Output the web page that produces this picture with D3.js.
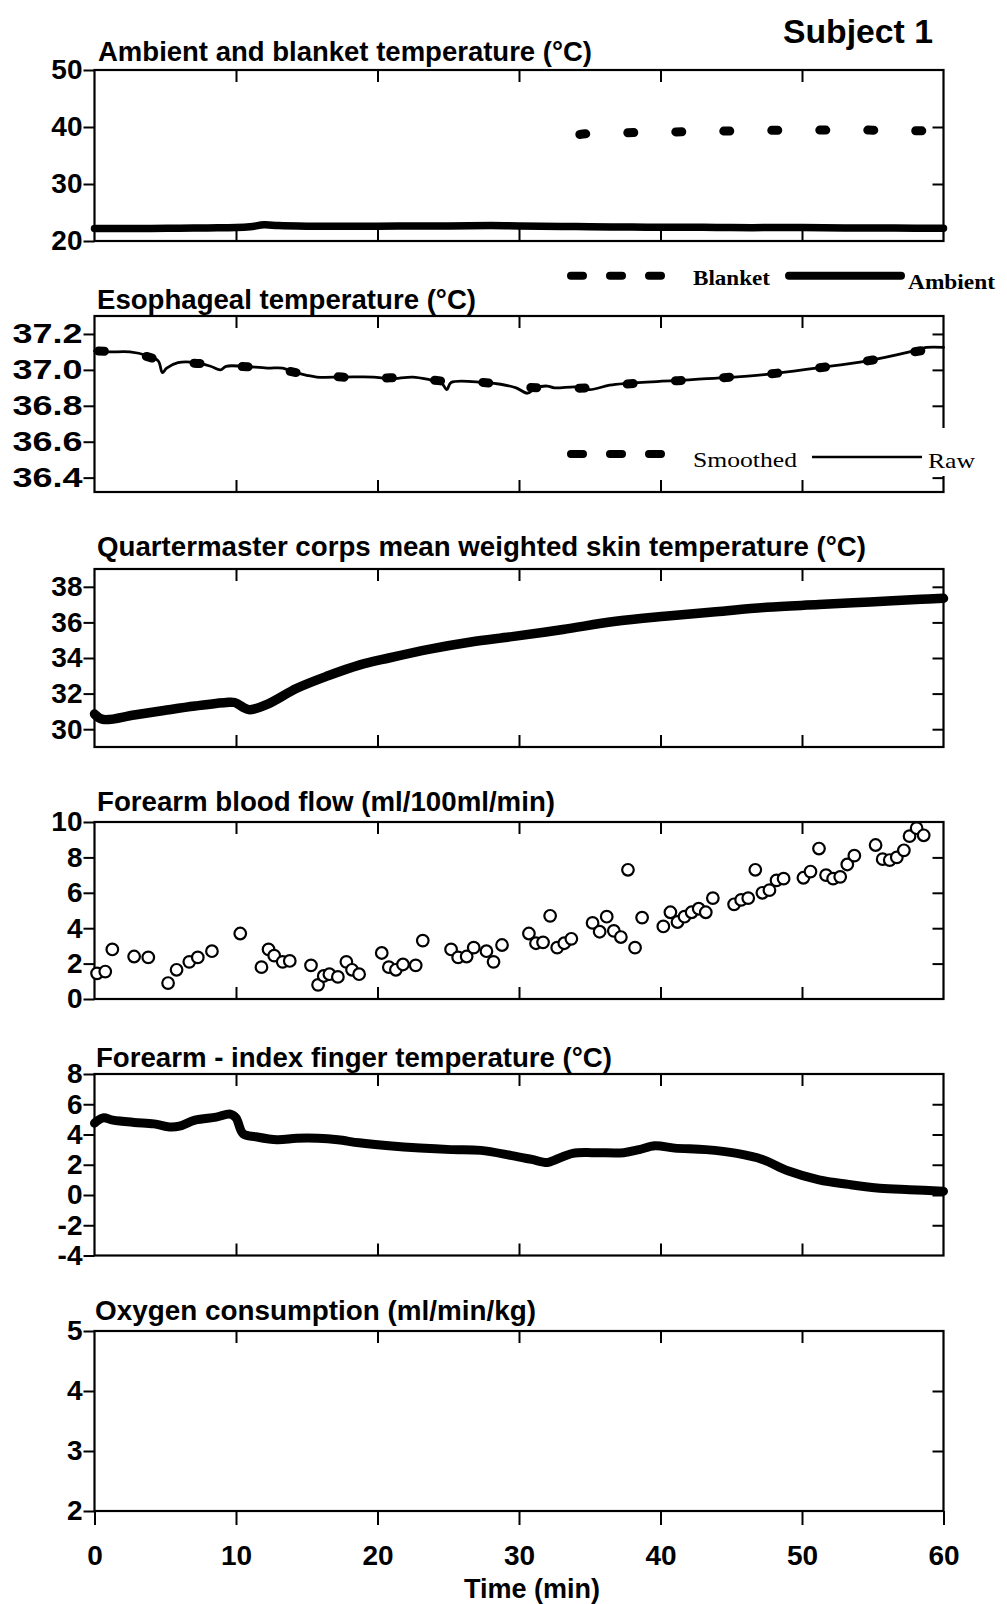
<!DOCTYPE html>
<html>
<head>
<meta charset="utf-8">
<script src="https://cdn.jsdelivr.net/npm/d3@7"></script>
<style>
  body { margin: 0; background: #fff; }
  svg { display: block; }
</style>
</head>
<body>
<svg id="chart" width="1007" height="1604"></svg>
<script>
// ---- Data -------------------------------------------------------------
const timeTicks = [0, 10, 20, 30, 40, 50, 60];

// Ambient and blanket temperature (°C)
const ambientTime = [0, 2, 4, 6, 8, 10, 11, 12, 13, 15, 18, 20, 23, 25, 28, 30, 33, 35, 38, 40, 43, 45, 48, 50, 53, 55, 58, 60];
const ambientTemp = [22.2, 22.2, 22.2, 22.25, 22.3, 22.35, 22.5, 22.85, 22.7, 22.6, 22.6, 22.6, 22.65, 22.65, 22.7, 22.65, 22.55, 22.5, 22.45, 22.4, 22.4, 22.35, 22.35, 22.35, 22.3, 22.3, 22.25, 22.25];
const blanketTime = [34.3, 35, 37.5, 40, 42.5, 45, 47.5, 50, 52.5, 55, 57.5, 60];
const blanketTemp = [38.7, 38.85, 39.0, 39.1, 39.2, 39.3, 39.4, 39.45, 39.45, 39.45, 39.35, 39.3];
const ambientTicks = [20, 30, 40, 50];

// Esophageal temperature (°C)
const esoRawTime = [0, 1, 2.5, 3.7, 4.5, 4.8, 5.1, 5.9, 7.2, 8.2, 8.9, 9.3, 10.5, 12.2, 13.3, 14, 15, 15.7, 17.6, 19.7, 20.9, 22.5, 23.7, 24.5, 24.9, 25.2, 27.5, 28.7, 29.8, 30.6, 31.2, 32, 32.5, 34.1, 35, 36.4, 37.6, 40.9, 44.2, 47.5, 51, 54.6, 57.6, 58.8, 60];
const esoRawTemp = [37.105, 37.1, 37.1, 37.08, 37.05, 36.985, 37.01, 37.04, 37.04, 37.02, 37.0, 37.02, 37.02, 37.01, 37.01, 36.99, 36.97, 36.96, 36.96, 36.96, 36.95, 36.96, 36.945, 36.93, 36.89, 36.93, 36.93, 36.92, 36.9, 36.87, 36.9, 36.91, 36.9, 36.905, 36.89, 36.915, 36.925, 36.94, 36.955, 36.975, 37.01, 37.05, 37.1, 37.125, 37.125];
const esoSmoothTime = [0, 2.5, 5, 7.5, 10, 12.5, 15, 17.5, 20, 22.5, 25, 27.5, 30, 32.5, 35, 37.5, 40, 42.5, 45, 47.5, 50, 52.5, 55, 57.5, 60];
const esoSmoothTemp = [37.105, 37.095, 37.05, 37.035, 37.02, 37.01, 36.975, 36.96, 36.955, 36.955, 36.935, 36.93, 36.905, 36.9, 36.9, 36.92, 36.935, 36.945, 36.96, 36.975, 37.0, 37.025, 37.055, 37.095, 37.125];
const esoTicks = [36.4, 36.6, 36.8, 37.0, 37.2];

// Quartermaster corps mean weighted skin temperature (°C)
const skinTime = [0, 0.6, 2.8, 4.9, 7.1, 9.3, 9.9, 10.9, 12.2, 14.3, 16.5, 18.7, 20.8, 23.7, 26.6, 29.5, 33.1, 36.7, 40.3, 43.9, 47.5, 51.2, 54.8, 58.4, 60];
const skinTemp = [30.85, 30.55, 30.8, 31.05, 31.3, 31.5, 31.5, 31.1, 31.4, 32.3, 33.0, 33.6, 34.0, 34.5, 34.9, 35.2, 35.6, 36.05, 36.35, 36.6, 36.85, 37.0, 37.15, 37.3, 37.35];
const skinTicks = [30, 32, 34, 36, 38];

// Forearm blood flow (ml/100ml/min)
const flowTime = [0.18, 0.76, 1.26, 2.8, 3.8, 5.2, 5.8, 6.7, 7.3, 8.3, 10.3, 11.8, 12.3, 12.7, 13.3, 13.8, 15.3, 15.8, 16.2, 16.6, 17.2, 17.8, 18.2, 18.7, 20.3, 20.8, 21.3, 21.8, 22.7, 23.2, 25.2, 25.7, 26.3, 26.8, 27.7, 28.2, 28.8, 30.7, 31.2, 31.7, 32.2, 32.7, 33.2, 33.7, 35.2, 35.7, 36.2, 36.7, 37.2, 37.7, 38.2, 38.7, 40.2, 40.7, 41.2, 41.7, 42.2, 42.7, 43.2, 43.7, 45.2, 45.7, 46.2, 46.7, 47.2, 47.7, 48.2, 48.7, 50.1, 50.6, 51.2, 51.7, 52.2, 52.7, 53.2, 53.7, 55.2, 55.7, 56.2, 56.7, 57.2, 57.6, 58.1, 58.6];
const flowValue = [1.45, 1.55, 2.8, 2.4, 2.35, 0.9, 1.65, 2.1, 2.35, 2.7, 3.7, 1.8, 2.8, 2.45, 2.1, 2.15, 1.9, 0.8, 1.3, 1.4, 1.25, 2.1, 1.65, 1.4, 2.6, 1.8, 1.65, 1.95, 1.9, 3.3, 2.8, 2.35, 2.4, 2.9, 2.7, 2.1, 3.05, 3.7, 3.15, 3.2, 4.7, 2.9, 3.15, 3.4, 4.3, 3.8, 4.65, 3.85, 3.5, 7.3, 2.9, 4.6, 4.1, 4.9, 4.35, 4.65, 4.9, 5.1, 4.9, 5.7, 5.35, 5.6, 5.7, 7.3, 6.0, 6.15, 6.7, 6.8, 6.85, 7.2, 8.5, 7.0, 6.8, 6.9, 7.6, 8.1, 8.7, 7.9, 7.85, 8.0, 8.4, 9.2, 9.65, 9.25];
const flowTicks = [0, 2, 4, 6, 8, 10];

// Forearm - index finger temperature (°C)
const fingerTime = [0, 0.6, 1.3, 2.8, 4.2, 5.3, 6, 7.1, 8.6, 9.6, 10, 10.5, 11.4, 12.9, 14.3, 15.8, 17.2, 18.7, 20.8, 23, 25.2, 27.3, 29.5, 30.9, 32, 32.5, 33.8, 35.3, 37.4, 38.5, 39.6, 41, 43.2, 45.4, 47.2, 49, 51.2, 53.3, 55.5, 57.6, 60];
const fingerDiff = [4.75, 5.1, 4.95, 4.8, 4.7, 4.5, 4.55, 4.95, 5.15, 5.35, 5.1, 4.05, 3.85, 3.65, 3.75, 3.75, 3.65, 3.45, 3.25, 3.1, 3.0, 2.95, 2.6, 2.35, 2.15, 2.3, 2.75, 2.8, 2.8, 3.0, 3.25, 3.1, 3.0, 2.75, 2.35, 1.6, 1.0, 0.7, 0.45, 0.35, 0.25];
const fingerTicks = [-4, -2, 0, 2, 4, 6, 8];

// Oxygen consumption (ml/min/kg) – axis only
const oxygenTicks = [2, 3, 4, 5];

// ---- Layout -----------------------------------------------------------
const SANS = '"Liberation Sans", Arial, Helvetica, sans-serif';
const SERIF = '"Liberation Serif", "Times New Roman", serif';
const svg = d3.select("#chart");
const x = d3.scaleLinear().domain([0, 60]).range([94.5, 943.5]);
const innerTimes = timeTicks.slice(1, -1);
const intLabel = d => String(d);              // plain hyphen for negatives
const oneDecimal = d => d.toFixed(1);

function zip(ts, vs) { return ts.map((t, i) => [t, vs[i]]); }

function panel(cfg) {
  const y = d3.scaleLinear().domain(cfg.domain).range([cfg.bottom, cfg.top]);
  const g = svg.append("g");

  // title
  g.append("text")
    .attr("x", cfg.titleX).attr("y", cfg.titleY)
    .attr("font-family", SANS).attr("font-weight", "bold").attr("font-size", 27)
    .attr("textLength", cfg.titleW).attr("lengthAdjust", "spacingAndGlyphs")
    .text(cfg.title);

  // frame
  g.append("rect")
    .attr("x", x(0)).attr("y", cfg.top)
    .attr("width", x(60) - x(0)).attr("height", cfg.bottom - cfg.top)
    .attr("fill", "none").attr("stroke", "#000").attr("stroke-width", 2.2);

  const styleTicks = s => {
    s.select(".domain").remove();
    s.selectAll("line").attr("stroke-width", 2);
  };

  // left axis: outward ticks with labels
  g.append("g").attr("transform", `translate(${x(0)},0)`)
    .call(d3.axisLeft(y).tickValues(cfg.ticks).tickFormat(cfg.fmt).tickSize(11).tickPadding(1))
    .call(styleTicks)
    .call(s => {
      const t = s.selectAll("text")
        .attr("font-family", SANS).attr("font-weight", "bold").attr("font-size", 28).attr("fill", "#000");
      if (cfg.labelW) t.attr("textLength", cfg.labelW).attr("lengthAdjust", "spacingAndGlyphs");
    });

  // right axis: inward ticks for interior values
  const d0 = Math.min(...cfg.domain), d1 = Math.max(...cfg.domain);
  const rightVals = cfg.ticks.filter(v => v > d0 + 1e-6 && v < d1 - 1e-6);
  g.append("g").attr("transform", `translate(${x(60)},0)`)
    .call(d3.axisRight(y).tickValues(rightVals).tickSize(-11).tickFormat(""))
    .call(styleTicks);

  // top axis: inward ticks
  g.append("g").attr("transform", `translate(0,${cfg.top})`)
    .call(d3.axisTop(x).tickValues(innerTimes).tickSize(-12).tickFormat(""))
    .call(styleTicks);

  // bottom axis
  if (cfg.lastPanel) {
    g.append("g").attr("transform", `translate(0,${cfg.bottom})`)
      .call(d3.axisBottom(x).tickValues(timeTicks).tickSize(14).tickPadding(20).tickFormat(intLabel))
      .call(styleTicks)
      .call(s => s.selectAll("text")
        .attr("font-family", SANS).attr("font-weight", "bold").attr("font-size", 28).attr("fill", "#000"));
  } else {
    g.append("g").attr("transform", `translate(0,${cfg.bottom})`)
      .call(d3.axisBottom(x).tickValues(innerTimes).tickSize(-12).tickFormat(""))
      .call(styleTicks);
  }
  return { g, y };
}

function drawLine(g, y, data, width, dash, offset) {
  const line = d3.line().x(d => x(d[0])).y(d => y(d[1])).curve(d3.curveCatmullRom.alpha(0.5));
  const p = g.append("path").datum(data)
    .attr("d", line)
    .attr("fill", "none").attr("stroke", "#000")
    .attr("stroke-width", width)
    .attr("stroke-linejoin", "round").attr("stroke-linecap", "round");
  if (dash) p.attr("stroke-dasharray", dash).attr("stroke-dashoffset", offset || 0);
  return p;
}

// ---- Header -----------------------------------------------------------
svg.append("text")
  .attr("x", 783).attr("y", 43)
  .attr("font-family", SANS).attr("font-weight", "bold").attr("font-size", 34)
  .attr("textLength", 150).attr("lengthAdjust", "spacingAndGlyphs")
  .text("Subject 1");

// ---- Panel 1: ambient and blanket ------------------------------------
{
  const { g, y } = panel({
    title: "Ambient and blanket temperature (°C)", titleX: 98, titleY: 61, titleW: 494,
    domain: [20, 50], top: 70, bottom: 241, ticks: ambientTicks, fmt: intLabel
  });
  drawLine(g, y, zip(ambientTime, ambientTemp), 7.5);
  drawLine(g, y, zip(blanketTime, blanketTemp), 9, "6,42", 0);

  // legend
  const lg = svg.append("g");
  lg.append("line").attr("x1", 571).attr("x2", 661).attr("y1", 275.7).attr("y2", 275.7)
    .attr("stroke", "#000").attr("stroke-width", 8).attr("stroke-linecap", "round")
    .attr("stroke-dasharray", "12,27");
  lg.append("text").attr("x", 693).attr("y", 285)
    .attr("font-family", SERIF).attr("font-weight", "bold").attr("font-size", 22)
    .attr("textLength", 77).attr("lengthAdjust", "spacingAndGlyphs").text("Blanket");
  lg.append("line").attr("x1", 789).attr("x2", 901).attr("y1", 275.7).attr("y2", 275.7)
    .attr("stroke", "#000").attr("stroke-width", 8).attr("stroke-linecap", "round");
  lg.append("text").attr("x", 908).attr("y", 288.5)
    .attr("font-family", SERIF).attr("font-weight", "bold").attr("font-size", 22)
    .attr("textLength", 87).attr("lengthAdjust", "spacingAndGlyphs").text("Ambient");
}

// ---- Panel 2: esophageal ---------------------------------------------
{
  const { g, y } = panel({
    title: "Esophageal temperature (°C)", titleX: 97, titleY: 309, titleW: 379,
    domain: [36.32, 37.3], top: 316, bottom: 492, ticks: esoTicks, fmt: oneDecimal,
    labelW: 70
  });
  drawLine(g, y, zip(esoRawTime, esoRawTemp), 2.8);
  drawLine(g, y, zip(esoSmoothTime, esoSmoothTemp), 9, "6,42.3", 44.3);

  // legend sits on a white patch that interrupts the right frame
  const lg = svg.append("g");
  lg.append("rect").attr("x", 560).attr("y", 428).attr("width", 430).attr("height", 48).attr("fill", "#fff");
  lg.append("line").attr("x1", 571).attr("x2", 661).attr("y1", 454).attr("y2", 454)
    .attr("stroke", "#000").attr("stroke-width", 8).attr("stroke-linecap", "round")
    .attr("stroke-dasharray", "12,27");
  lg.append("text").attr("x", 693).attr("y", 467)
    .attr("font-family", SERIF).attr("font-size", 22)
    .attr("textLength", 104).attr("lengthAdjust", "spacingAndGlyphs").text("Smoothed");
  lg.append("line").attr("x1", 812).attr("x2", 922).attr("y1", 457).attr("y2", 457)
    .attr("stroke", "#000").attr("stroke-width", 2.6);
  lg.append("text").attr("x", 928).attr("y", 468)
    .attr("font-family", SERIF).attr("font-size", 22)
    .attr("textLength", 47).attr("lengthAdjust", "spacingAndGlyphs").text("Raw");
}

// ---- Panel 3: mean weighted skin temperature -------------------------
{
  const { g, y } = panel({
    title: "Quartermaster corps mean weighted skin temperature (°C)", titleX: 97, titleY: 556, titleW: 769,
    domain: [29, 39], top: 569, bottom: 747, ticks: skinTicks, fmt: intLabel
  });
  drawLine(g, y, zip(skinTime, skinTemp), 9.5);
}

// ---- Panel 4: forearm blood flow -------------------------------------
{
  const { g, y } = panel({
    title: "Forearm blood flow (ml/100ml/min)", titleX: 97, titleY: 811, titleW: 458,
    domain: [0, 10], top: 822, bottom: 999, ticks: flowTicks, fmt: intLabel
  });
  g.append("g").selectAll("circle")
    .data(zip(flowTime, flowValue))
    .join("circle")
    .attr("cx", d => x(d[0])).attr("cy", d => y(d[1])).attr("r", 5.8)
    .attr("fill", "#fff").attr("stroke", "#000").attr("stroke-width", 2.2);
}

// ---- Panel 5: forearm - index finger temperature ----------------------
{
  const { g, y } = panel({
    title: "Forearm - index finger temperature (°C)", titleX: 96, titleY: 1067, titleW: 516,
    domain: [-4, 8], top: 1074, bottom: 1255.5, ticks: fingerTicks, fmt: intLabel
  });
  drawLine(g, y, zip(fingerTime, fingerDiff), 9);
}

// ---- Panel 6: oxygen consumption -------------------------------------
{
  panel({
    title: "Oxygen consumption (ml/min/kg)", titleX: 95, titleY: 1320, titleW: 441,
    domain: [2, 5], top: 1331, bottom: 1511, ticks: oxygenTicks, fmt: intLabel,
    lastPanel: true
  });
  svg.append("text")
    .attr("x", 532).attr("y", 1598).attr("text-anchor", "middle")
    .attr("font-family", SANS).attr("font-weight", "bold").attr("font-size", 27)
    .text("Time (min)");
}
</script>
</body>
</html>
